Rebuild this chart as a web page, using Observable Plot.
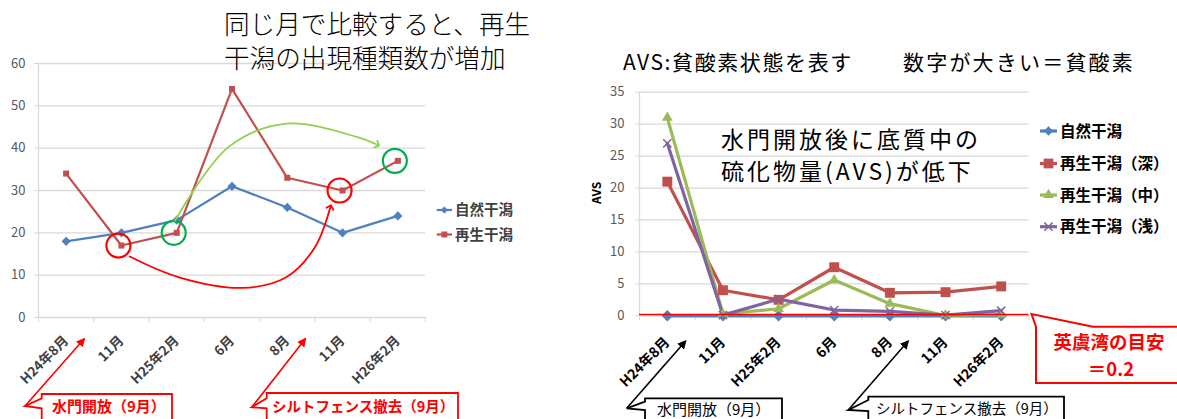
<!DOCTYPE html>
<html>
<head>
<meta charset="utf-8">
<script src="https://cdn.jsdelivr.net/npm/d3@7"></script>
<script src="https://cdn.jsdelivr.net/npm/@observablehq/plot@0.6"></script>
<style>
  html, body { margin: 0; padding: 0; background: #fff; }
  #chart { position: relative; width: 1177px; height: 419px; overflow: hidden; background: #fff; }
  #chart svg { position: absolute; left: 0; top: 0; }
</style>
</head>
<body>
<div id="chart"></div>
<script>
// ---- survey months (shared by both panels) ----
const months = ["H24年8月", "11月", "H25年2月", "6月", "8月", "11月", "H26年2月"];

// ---- left panel: number of species found ----
const speciesTicks = [0, 10, 20, 30, 40, 50, 60];
const speciesNatural = [18, 20, 23, 31, 26, 20, 24];     // 自然干潟
const speciesRestored = [34, 17, 20, 54, 33, 30, 37];    // 再生干潟
const speciesSeries = ["自然干潟", "再生干潟"];

// ---- right panel: AVS (acid volatile sulfide) ----
const avsTicks = [0, 5, 10, 15, 20, 25, 30, 35];
const avsNatural = [0, 0, 0, 0, 0, 0, 0];                // 自然干潟
const avsDeep = [21, 4, 2.5, 7.6, 3.6, 3.7, 4.6];        // 再生干潟(深)
const avsMid = [31, 0.3, 1.1, 5.6, 1.9, 0.05, 0.2];      // 再生干潟(中)
const avsShallow = [27, 0.1, 2.6, 0.9, 0.7, 0.1, 0.8];   // 再生干潟(浅)
const avsSeries = ["自然干潟", "再生干潟（深）", "再生干潟（中）", "再生干潟（浅）"];
const avsGuide = 0.2;                                    // 英虞湾の目安

// ---- highlighted comparisons on the left panel (same month, restored flat) ----
const redRings = [{i: 1, v: 17}, {i: 5, v: 30}];
const greenRings = [{i: 2, v: 20}, {i: 6, v: 37}];
// hand-drawn connector paths, in (month slot, species) units
const redCurve = [[1.15, 14.4], [2.04, 9.5], [3.2, 7.0], [3.98, 9.5], [4.5, 16.6], [4.78, 26.1]];
const greenCurve = [[1.97, 22.9], [2.94, 40.3], [3.98, 45.8], [5.27, 42.6], [5.63, 40.8]];

// events in September (one third of the way from the Aug survey to the Nov survey)
const eventSlots = [1 / 3, 4 + 1 / 3];
const eventLabels = ["水門開放（9月）", "シルトフェンス撤去（9月）"];

const FONT = '"Noto Sans CJK JP", "Noto Sans", sans-serif';
const blue = "#4f81bd", red = "#c0504d", green = "#9bbb59", purple = "#8064a2";
const gridColor = "#d9d9d9";
const slots = months.map((_, i) => i);
const bounds = slots.map(i => i - 0.5).concat([months.length - 0.5]);
const rows = values => values.map((v, i) => ({i, v}));

const wrap = document.getElementById("chart");

// ================= left panel =================
const left = Plot.plot({
  width: 1177, height: 419,
  marginLeft: 38, marginRight: 752, marginTop: 63, marginBottom: 102,
  style: {background: "transparent", fontFamily: FONT, overflow: "visible"},
  x: {type: "linear", domain: [-0.5, 6.5], axis: null},
  y: {domain: [0, 60], axis: null},
  marks: [
    Plot.ruleY(speciesTicks, {stroke: gridColor, strokeWidth: 1.3}),
    Plot.ruleX([-0.5], {stroke: gridColor, strokeWidth: 1.3}),
    Plot.axisY(speciesTicks, {tickSize: 4, tickPadding: 9, stroke: gridColor, fill: "#595959", fontSize: 13, label: null}),
    Plot.axisX(bounds, {tickSize: 5, tickFormat: () => "", stroke: gridColor, label: null}),
    Plot.axisX(slots, {tickSize: 0, tickPadding: 21, tickRotate: -45, tickFormat: i => months[i],
      fontSize: 13.5, fontWeight: "bold", fill: "#404040", label: null}),
    Plot.line(rows(speciesNatural), {x: "i", y: "v", stroke: blue, strokeWidth: 2.2}),
    Plot.line(rows(speciesRestored), {x: "i", y: "v", stroke: red, strokeWidth: 2.2}),
    Plot.dot(rows(speciesNatural), {x: "i", y: "v", symbol: "diamond2", r: 3.2, fill: blue, stroke: blue}),
    Plot.dot(rows(speciesRestored), {x: "i", y: "v", symbol: "square", r: 3.4, fill: red}),
    Plot.dot(redRings, {x: "i", y: "v", r: 12, dx: -3, stroke: "#ff0000", strokeWidth: 2.2, fill: "none"}),
    Plot.dot(greenRings, {x: "i", y: "v", r: 12, dx: -3, stroke: "#00b050", strokeWidth: 2.2, fill: "none"}),
    Plot.line(redCurve, {x: d => d[0], y: d => d[1], curve: "catmull-rom", stroke: "#ff0000", strokeWidth: 1.8, markerEnd: "arrow"}),
    Plot.line(greenCurve, {x: d => d[0], y: d => d[1], curve: "catmull-rom", stroke: "#92d050", strokeWidth: 1.8, markerEnd: "arrow"})
  ]
});
wrap.appendChild(left);

// ================= right panel =================
const right = Plot.plot({
  width: 1177, height: 419,
  marginLeft: 639, marginRight: 148.5, marginTop: 91.7, marginBottom: 103.7,
  style: {background: "transparent", fontFamily: FONT, overflow: "visible"},
  x: {type: "linear", domain: [-0.5, 6.5], axis: null},
  y: {domain: [0, 35], axis: null},
  marks: [
    Plot.ruleY(avsTicks, {stroke: gridColor, strokeWidth: 1.3}),
    Plot.ruleX([-0.5], {stroke: gridColor, strokeWidth: 1.3}),
    Plot.axisY(avsTicks, {tickSize: 4, tickPadding: 11, stroke: gridColor, fill: "#595959", fontSize: 13, label: null}),
    Plot.axisX(bounds, {tickSize: 5, tickFormat: () => "", stroke: gridColor, label: null}),
    Plot.axisX(slots, {tickSize: 0, tickPadding: 24, tickRotate: -45, tickFormat: i => months[i],
      fontSize: 14, fontWeight: "bold", fill: "#000", label: null}),
    Plot.text(["AVS"], {frameAnchor: "left", dx: -42, rotate: -90, fontSize: 12, fontWeight: "bold", fill: "#000"}),
    Plot.line(rows(avsNatural), {x: "i", y: "v", stroke: blue, strokeWidth: 3.2}),
    Plot.line(rows(avsDeep), {x: "i", y: "v", stroke: red, strokeWidth: 3.2}),
    Plot.line(rows(avsMid), {x: "i", y: "v", stroke: green, strokeWidth: 3.2}),
    Plot.line(rows(avsShallow), {x: "i", y: "v", stroke: purple, strokeWidth: 3.2}),
    Plot.dot(rows(avsNatural), {x: "i", y: "v", symbol: "diamond2", r: 4.2, fill: blue, stroke: blue}),
    Plot.dot(rows(avsDeep), {x: "i", y: "v", symbol: "square", r: 5.6, fill: red}),
    Plot.dot(rows(avsMid), {x: "i", y: "v", symbol: "triangle", r: 4, fill: green}),
    Plot.dot(rows(avsShallow), {x: "i", y: "v", symbol: "times", r: 3.8, stroke: purple, strokeWidth: 1.5}),
    Plot.ruleY([avsGuide], {stroke: "#ff0000", strokeWidth: 1.6})
  ]
});
wrap.appendChild(right);

// ================= titles, legends and callouts =================
const lx = left.scale("x"), ly = left.scale("y");
const rx = right.scale("x"), ry = right.scale("y");

const svg = d3.create("svg")
  .attr("width", 1177).attr("height", 419)
  .attr("viewBox", "0 0 1177 419")
  .style("font-family", FONT);

const defs = svg.append("defs");
for (const [id, color] of [["head-red", "#ff0000"], ["head-black", "#000"]]) {
  defs.append("marker")
    .attr("id", id).attr("viewBox", "0 0 10 10").attr("refX", 8).attr("refY", 5)
    .attr("markerWidth", 9).attr("markerHeight", 9).attr("markerUnits", "userSpaceOnUse")
    .attr("orient", "auto")
    .append("path").attr("d", "M0,0L10,5L0,10Z").attr("fill", color);
}

function text(x, y, str, opts = {}) {
  return svg.append("text")
    .attr("x", x).attr("y", y).attr("dy", "0.36em")
    .attr("font-size", opts.size || 14)
    .attr("font-weight", opts.weight || "normal")
    .attr("fill", opts.color || "#000")
    .attr("text-anchor", opts.anchor || "start")
    .attr("letter-spacing", opts.spacing || 0)
    .style("white-space", "pre")
    .text(str);
}

// headings
text(224, 25, "同じ月で比較すると、再生", {size: 25.6, weight: 300});
text(224, 58.5, "干潟の出現種類数が増加", {size: 25.6, weight: 300});
text(623, 62.5, "AVS:貧酸素状態を表す", {size: 21, spacing: 1.6});
text(903, 62.5, "数字が大きい＝貧酸素", {size: 21, spacing: 2.2});
text(721, 140, "水門開放後に底質中の", {size: 23, spacing: 3});
text(721, 172, "硫化物量(AVS)が低下", {size: 23, spacing: 3});

// legends
function legendItem(x0, x1, y, color, symbolType, size, label, font) {
  svg.append("line").attr("x1", x0).attr("x2", x1).attr("y1", y).attr("y2", y)
    .attr("stroke", color).attr("stroke-width", font.line);
  const sym = svg.append("path")
    .attr("transform", `translate(${(x0 + x1) / 2},${y})`)
    .attr("d", d3.symbol(symbolType, size)());
  if (symbolType === d3.symbolTimes) sym.attr("fill", "none").attr("stroke", color).attr("stroke-width", 1.5);
  else sym.attr("fill", color);
  text(x1 + 3, y, label, {size: font.size, weight: "bold", color: font.color});
}
const leftLegendFont = {size: 14.5, color: "#404040", line: 2.2};
legendItem(436.7, 452, 210, blue, d3.symbolDiamond2, 32, speciesSeries[0], leftLegendFont);
legendItem(436.7, 452, 234.5, red, d3.symbolSquare, 36, speciesSeries[1], leftLegendFont);

const rightLegendFont = {size: 15.5, color: "#000", line: 3.2};
const rightSymbols = [[blue, d3.symbolDiamond2, 55], [red, d3.symbolSquare, 95], [green, d3.symbolTriangle, 50], [purple, d3.symbolTimes, 45]];
[131, 163.5, 195, 226.7].forEach((y, k) =>
  legendItem(1040, 1057, y, rightSymbols[k][0], rightSymbols[k][1], rightSymbols[k][2], avsSeries[k], rightLegendFont));

// line callouts with a wedge pointing to an arrow that marks the event month
function callout({x0, y0, x1, y1, wa, wb, tip, head, color, label, tx, size, weight}) {
  svg.append("path")
    .attr("d", `M${x0},${y1}V${wb}L${tip[0]},${tip[1]}L${x0},${wa}V${y0}H${x1}V${y1}Z`)
    .attr("fill", "#fff").attr("stroke", color).attr("stroke-width", 1.8);
  svg.append("line")
    .attr("x1", tip[0]).attr("y1", tip[1]).attr("x2", head[0]).attr("y2", head[1])
    .attr("stroke", color).attr("stroke-width", 1.6)
    .attr("marker-end", `url(#${color === "#000" ? "head-black" : "head-red"})`);
  text(tx, (y0 + 419) / 2 + 0.5, label, {size, weight, color});
}

const lBase = ly.apply(0), rBase = ry.apply(0);
callout({x0: 41.7, y0: 394, x1: 172, y1: 430, wa: 398.3, wb: 408.3, tip: [25, 406],
  head: [lx.apply(eventSlots[0]), lBase + 22], color: "#ff0000", label: eventLabels[0], tx: 52, size: 15, weight: "bold"});
callout({x0: 266.7, y0: 393, x1: 458, y1: 430, wa: 398.3, wb: 408.3, tip: [251.7, 407.3],
  head: [lx.apply(eventSlots[1]), lBase + 22], color: "#ff0000", label: eventLabels[1], tx: 272, size: 14.5, weight: "bold"});
callout({x0: 645, y0: 398.3, x1: 782, y1: 430, wa: 401.7, wb: 410, tip: [626.7, 408.3],
  head: [rx.apply(eventSlots[0]), rBase + 26], color: "#000", label: eventLabels[0], tx: 657, size: 15, weight: "normal"});
callout({x0: 868.3, y0: 396.7, x1: 1064, y1: 430, wa: 400, wb: 411, tip: [848.3, 410],
  head: [rx.apply(eventSlots[1]), rBase + 26], color: "#000", label: eventLabels[1], tx: 876, size: 14.5, weight: "normal"});

// guide value callout attached to the end of the guide line
const guideEnd = [rx.apply(6.5) + 3, ry.apply(avsGuide)];
svg.append("path")
  .attr("d", `M1036,383V326.7L${guideEnd[0]},${guideEnd[1]}L1093,326.7H1182V383Z`)
  .attr("fill", "#fff").attr("stroke", "#ff0000").attr("stroke-width", 2);
text(1109, 342.5, "英虞湾の目安", {size: 18.5, weight: "bold", color: "#ff0000", anchor: "middle"});
text(1111, 369.5, "＝" + avsGuide, {size: 18.5, weight: "bold", color: "#ff0000", anchor: "middle"});

wrap.appendChild(svg.node());
</script>
</body>
</html>
